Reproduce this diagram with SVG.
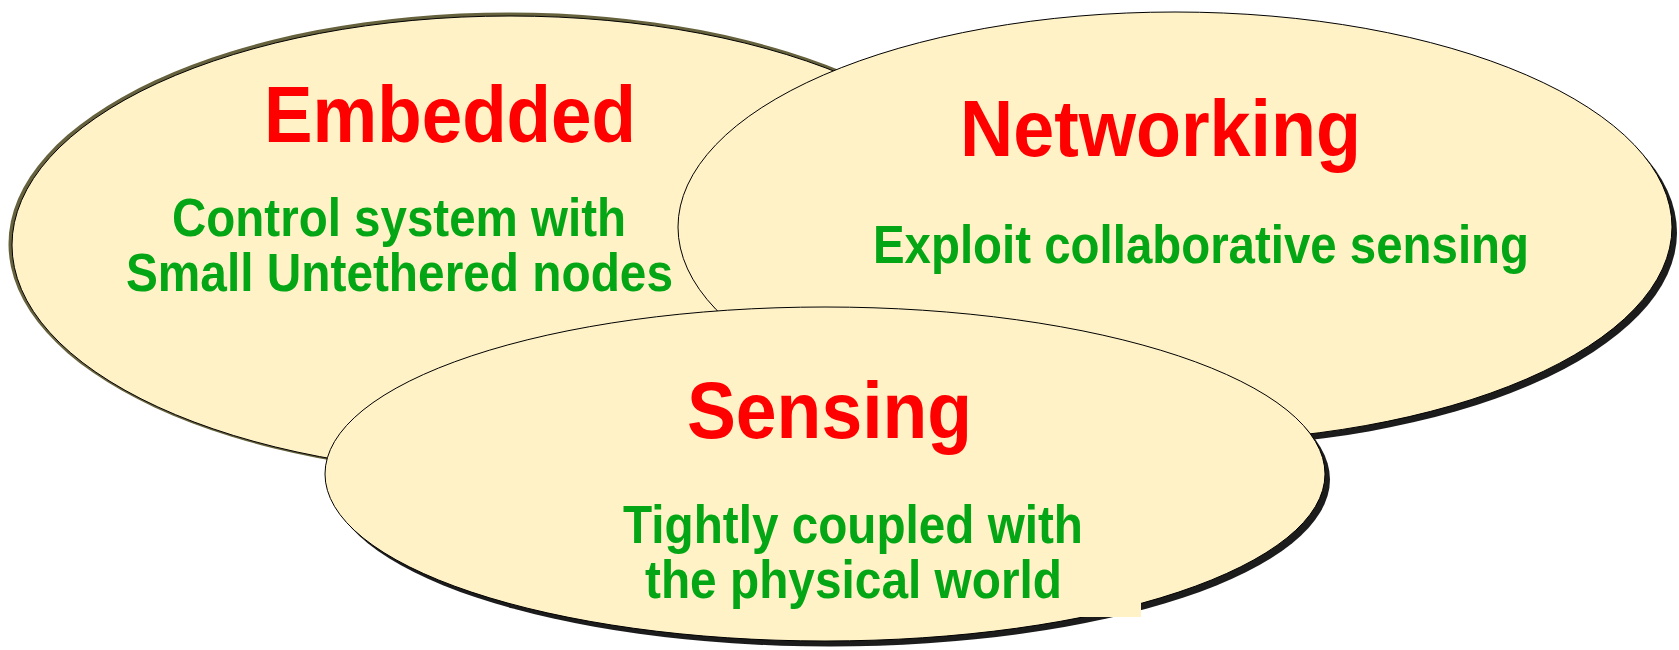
<svg xmlns="http://www.w3.org/2000/svg" width="1679" height="650" viewBox="0 0 1679 650">
  <defs>
    <filter id="soft" x="-5%" y="-5%" width="110%" height="110%">
      <feGaussianBlur stdDeviation="0.6"/>
    </filter>
    <style>
      .bubble { fill: #fff2c7; stroke: #000000; stroke-width: 1; }
      .shadow { fill: #1c1c1c; filter: url(#soft); }
      .olive { fill: #66623c; filter: url(#soft); }
      .title { font-family: "Liberation Sans", Arial, sans-serif; font-weight: bold; font-size: 80px; fill: #ff0000; text-anchor: middle; }
      .sub { font-family: "Liberation Sans", Arial, sans-serif; font-weight: bold; font-size: 54px; fill: #04a615; text-anchor: middle; }
    </style>
  </defs>
  <rect width="1679" height="650" fill="#ffffff"/>

  <g id="embedded">
    <ellipse class="olive" cx="509" cy="244" rx="500.5" ry="231.5"/>
    <ellipse class="bubble" cx="510" cy="245" rx="498" ry="229"/>
    <text class="title" x="450" y="142" textLength="372" lengthAdjust="spacingAndGlyphs">Embedded</text>
    <text class="sub" x="399" y="236" textLength="454" lengthAdjust="spacingAndGlyphs">Control system with</text>
    <text class="sub" x="399.5" y="291" textLength="547" lengthAdjust="spacingAndGlyphs">Small Untethered nodes</text>
  </g>

  <g id="networking">
    <ellipse class="shadow" cx="1180" cy="232.5" rx="497" ry="215"/>
    <ellipse class="bubble" cx="1175" cy="227" rx="497" ry="215"/>
    <text class="title" x="1160.5" y="156" textLength="401" lengthAdjust="spacingAndGlyphs">Networking</text>
    <text class="sub" x="1201" y="263" textLength="656" lengthAdjust="spacingAndGlyphs">Exploit collaborative sensing</text>
  </g>

  <g id="sensing">
    <ellipse class="shadow" cx="830" cy="479.5" rx="500" ry="167"/>
    <ellipse class="bubble" cx="825" cy="474" rx="500" ry="167"/>
    <rect x="1060" y="580" width="81" height="37" fill="#fff2c7"/>
    <text class="title" x="829.5" y="438" textLength="285" lengthAdjust="spacingAndGlyphs">Sensing</text>
    <text class="sub" x="853" y="543" textLength="460" lengthAdjust="spacingAndGlyphs">Tightly coupled with</text>
    <text class="sub" x="853.5" y="598" textLength="417" lengthAdjust="spacingAndGlyphs">the physical world</text>
  </g>

  <g id="connectors"></g>
</svg>
